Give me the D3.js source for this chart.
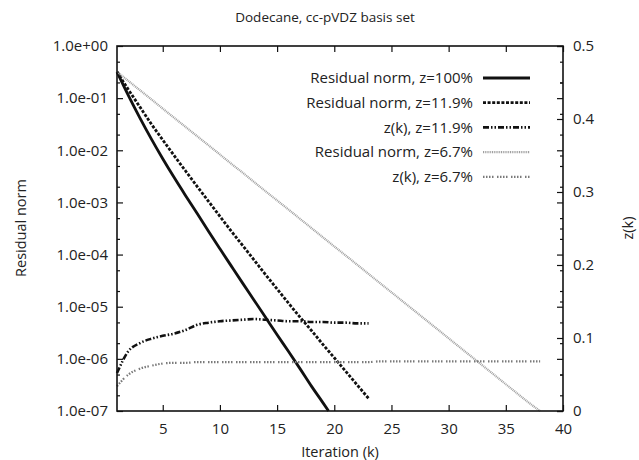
<!DOCTYPE html>
<html>
<head>
<meta charset="utf-8">
<script src="https://cdn.jsdelivr.net/npm/d3@7/dist/d3.min.js"></script>
<style>
  html, body { margin: 0; padding: 0; background: #fff; }
  svg text { font-family: "Open Sans", "Noto Sans", sans-serif; fill: #222; }
</style>
</head>
<body>
<svg id="chart" width="639" height="460"></svg>
<script>
// Iteration counts
const kFull = [1,2,3,4,5,6,7,8,9,10,11,12,13,14,15,16,17,18,19,19.5];
const kMid  = [1,2,3,4,5,6,7,8,9,10,11,12,13,14,15,16,17,18,19,20,21,22,23];
const kLong = [1,2,3,4,5,6,7,8,9,10,11,12,13,14,15,16,17,18,19,20,21,22,23,24,25,26,27,28,29,30,31,32,33,34,35,36,37,38];

// Residual norms (left, log axis)
const resid100 = [3.2e-1,1.12e-1,4.2e-2,1.66e-2,6.9e-3,3.0e-3,1.35e-3,6.2e-4,2.8e-4,1.29e-4,6.0e-5,2.8e-5,1.32e-5,6.2e-6,2.9e-6,1.38e-6,6.5e-7,3.0e-7,1.45e-7,1.0e-7];
const resid119 = [3.2e-1,1.45e-1,6.8e-2,3.2e-2,1.58e-2,7.9e-3,4.0e-3,2.04e-3,1.05e-3,5.4e-4,2.8e-4,1.48e-4,7.8e-5,4.1e-5,2.19e-5,1.17e-5,6.3e-6,3.5e-6,1.9e-6,1.05e-6,5.75e-7,3.16e-7,1.74e-7];
const resid67  = [3.2e-1,2.13e-1,1.42e-1,9.5e-2,6.3e-2,4.2e-2,2.8e-2,1.87e-2,1.25e-2,8.3e-3,5.5e-3,3.7e-3,2.45e-3,1.63e-3,1.09e-3,7.3e-4,4.85e-4,3.23e-4,2.15e-4,1.43e-4,9.6e-5,6.4e-5,4.25e-5,2.83e-5,1.89e-5,1.26e-5,8.4e-6,5.6e-6,3.73e-6,2.48e-6,1.65e-6,1.1e-6,7.35e-7,4.9e-7,3.26e-7,2.17e-7,1.45e-7,1.0e-7];

// z(k) fractions (right, linear axis)
const zk119 = [0.052,0.082,0.093,0.099,0.103,0.106,0.111,0.118,0.121,0.123,0.124,0.125,0.126,0.125,0.124,0.123,0.123,0.122,0.122,0.121,0.121,0.120,0.120];
const zk67  = [0.034,0.050,0.058,0.062,0.065,0.066,0.066,0.067,0.067,0.067,0.067,0.067,0.067,0.067,0.067,0.067,0.067,0.067,0.067,0.067,0.067,0.067,0.067,0.068,0.068,0.068,0.068,0.068,0.068,0.068,0.068,0.068,0.068,0.068,0.068,0.068,0.068,0.068];

// Tick labels
const xTicks = [5,10,15,20,25,30,35,40];
const yTicks = [1e0,1e-1,1e-2,1e-3,1e-4,1e-5,1e-6,1e-7];
const yTickLabels = ["1.0e+00","1.0e-01","1.0e-02","1.0e-03","1.0e-04","1.0e-05","1.0e-06","1.0e-07"];
const y2Ticks = [0,0.1,0.2,0.3,0.4,0.5];
const y2TickLabels = ["0","0.1","0.2","0.3","0.4","0.5"];

const legendLabels = ["Residual norm, z=100%","Residual norm, z=11.9%","z(k), z=11.9%","Residual norm, z=6.7%","z(k), z=6.7%"];

const svg = d3.select("#chart");
const L = 117, R = 563, T = 46, B = 411;

const x = d3.scaleLinear().domain([1, 40]).range([L, R]);
const y = d3.scaleLog().domain([1e-7, 1]).range([B, T]);
const y2 = d3.scaleLinear().domain([0, 0.5]).range([B, T]);

// Series styles
const styles = [
  { color: "#111", width: 2.8, dash: null },
  { color: "#111", width: 2.8, dash: "3,1.6" },
  { color: "#111", width: 2.6, dash: "6,2,1.5,2,1.5,2" },
  { color: "#a0a0a0", width: 2.2, dash: "1,0.8" },
  { color: "#7a7a7a", width: 2.2, dash: "1.5,1.5,1.5,1.5,1.5,1.5,1.5,3.5" }
];

const series = [
  { k: kFull, v: resid100, axis: y },
  { k: kMid,  v: resid119, axis: y },
  { k: kMid,  v: zk119,    axis: y2 },
  { k: kLong, v: resid67,  axis: y },
  { k: kLong, v: zk67,     axis: y2 }
];

const plot = svg.append("g");
series.forEach((s, i) => {
  const pts = s.k.map((k, j) => [k, s.v[j]]);
  const line = d3.line().x(d => x(d[0])).y(d => s.axis(d[1])).curve(d3.curveMonotoneX);
  const st = styles[i];
  plot.append("path")
    .attr("d", line(pts))
    .attr("fill", "none")
    .attr("stroke", st.color)
    .attr("stroke-width", st.width)
    .attr("stroke-dasharray", st.dash);
});

// Axes (ticks drawn inward, frame on all sides)
const major = 6, minor = 3;
const axBottom = d3.axisBottom(x).tickValues(xTicks).tickSize(-major).tickPadding(major + 6);
svg.append("g").attr("transform", `translate(0,${B})`).call(axBottom);
const axTop = d3.axisTop(x).tickValues(xTicks).tickSize(-major).tickFormat("");
svg.append("g").attr("transform", `translate(0,${T})`).call(axTop);

const yMinor = [];
yTicks.slice(1).forEach(d => { yMinor.push(d * 2, d * 5); });

const axLeft = d3.axisLeft(y).tickValues(yTicks).tickSize(-major).tickPadding(major + 3)
  .tickFormat((d, i) => yTickLabels[i]);
svg.append("g").attr("transform", `translate(${L},0)`).call(axLeft);
svg.append("g").attr("transform", `translate(${L},0)`)
  .call(d3.axisLeft(y).tickValues(yMinor).tickSize(-minor).tickFormat(""));
// mirrored log ticks on the right edge
svg.append("g").attr("transform", `translate(${R},0)`)
  .call(d3.axisRight(y).tickValues(yTicks).tickSize(-major).tickFormat(""));
svg.append("g").attr("transform", `translate(${R},0)`)
  .call(d3.axisRight(y).tickValues(yMinor).tickSize(-minor).tickFormat(""));

const axRight = d3.axisRight(y2).tickValues(y2Ticks).tickSize(-major).tickPadding(major + 4)
  .tickFormat((d, i) => y2TickLabels[i]);
svg.append("g").attr("transform", `translate(${R},0)`).call(axRight);
svg.append("g").attr("transform", `translate(${R},0)`)
  .call(d3.axisRight(y2).tickValues([0.05,0.15,0.25,0.35,0.45]).tickSize(-minor).tickFormat(""));

svg.selectAll(".domain").remove();
svg.selectAll(".tick line").attr("stroke", "#111").attr("stroke-width", 1.2);
svg.selectAll(".tick text").attr("font-size", 15).attr("fill", "#222");

svg.append("rect")
  .attr("x", L).attr("y", T).attr("width", R - L).attr("height", B - T)
  .attr("fill", "none").attr("stroke", "#111").attr("stroke-width", 1.6);

// Titles
svg.append("text").attr("x", 325).attr("y", 22).attr("text-anchor", "middle")
  .attr("font-size", 13.5).text("Dodecane, cc-pVDZ basis set");
svg.append("text").attr("x", 340).attr("y", 457).attr("text-anchor", "middle")
  .attr("font-size", 14.5).text("Iteration (k)");
svg.append("text").attr("transform", `translate(26,228) rotate(-90)`).attr("text-anchor", "middle")
  .attr("font-size", 14.5).text("Residual norm");
svg.append("text").attr("transform", `translate(633,228) rotate(-90)`).attr("text-anchor", "middle")
  .attr("font-size", 14.5).text("z(k)");

// Legend
const lg = svg.append("g");
legendLabels.forEach((lab, i) => {
  const yy = 78 + i * 24.7;
  lg.append("text").attr("x", 473).attr("y", yy).attr("dy", "0.35em")
    .attr("text-anchor", "end").attr("font-size", 15).text(lab);
  const st = styles[i];
  lg.append("line").attr("x1", 483).attr("x2", 530).attr("y1", yy).attr("y2", yy)
    .attr("stroke", st.color).attr("stroke-width", st.width)
    .attr("stroke-dasharray", st.dash);
});
</script>
</body>
</html>
